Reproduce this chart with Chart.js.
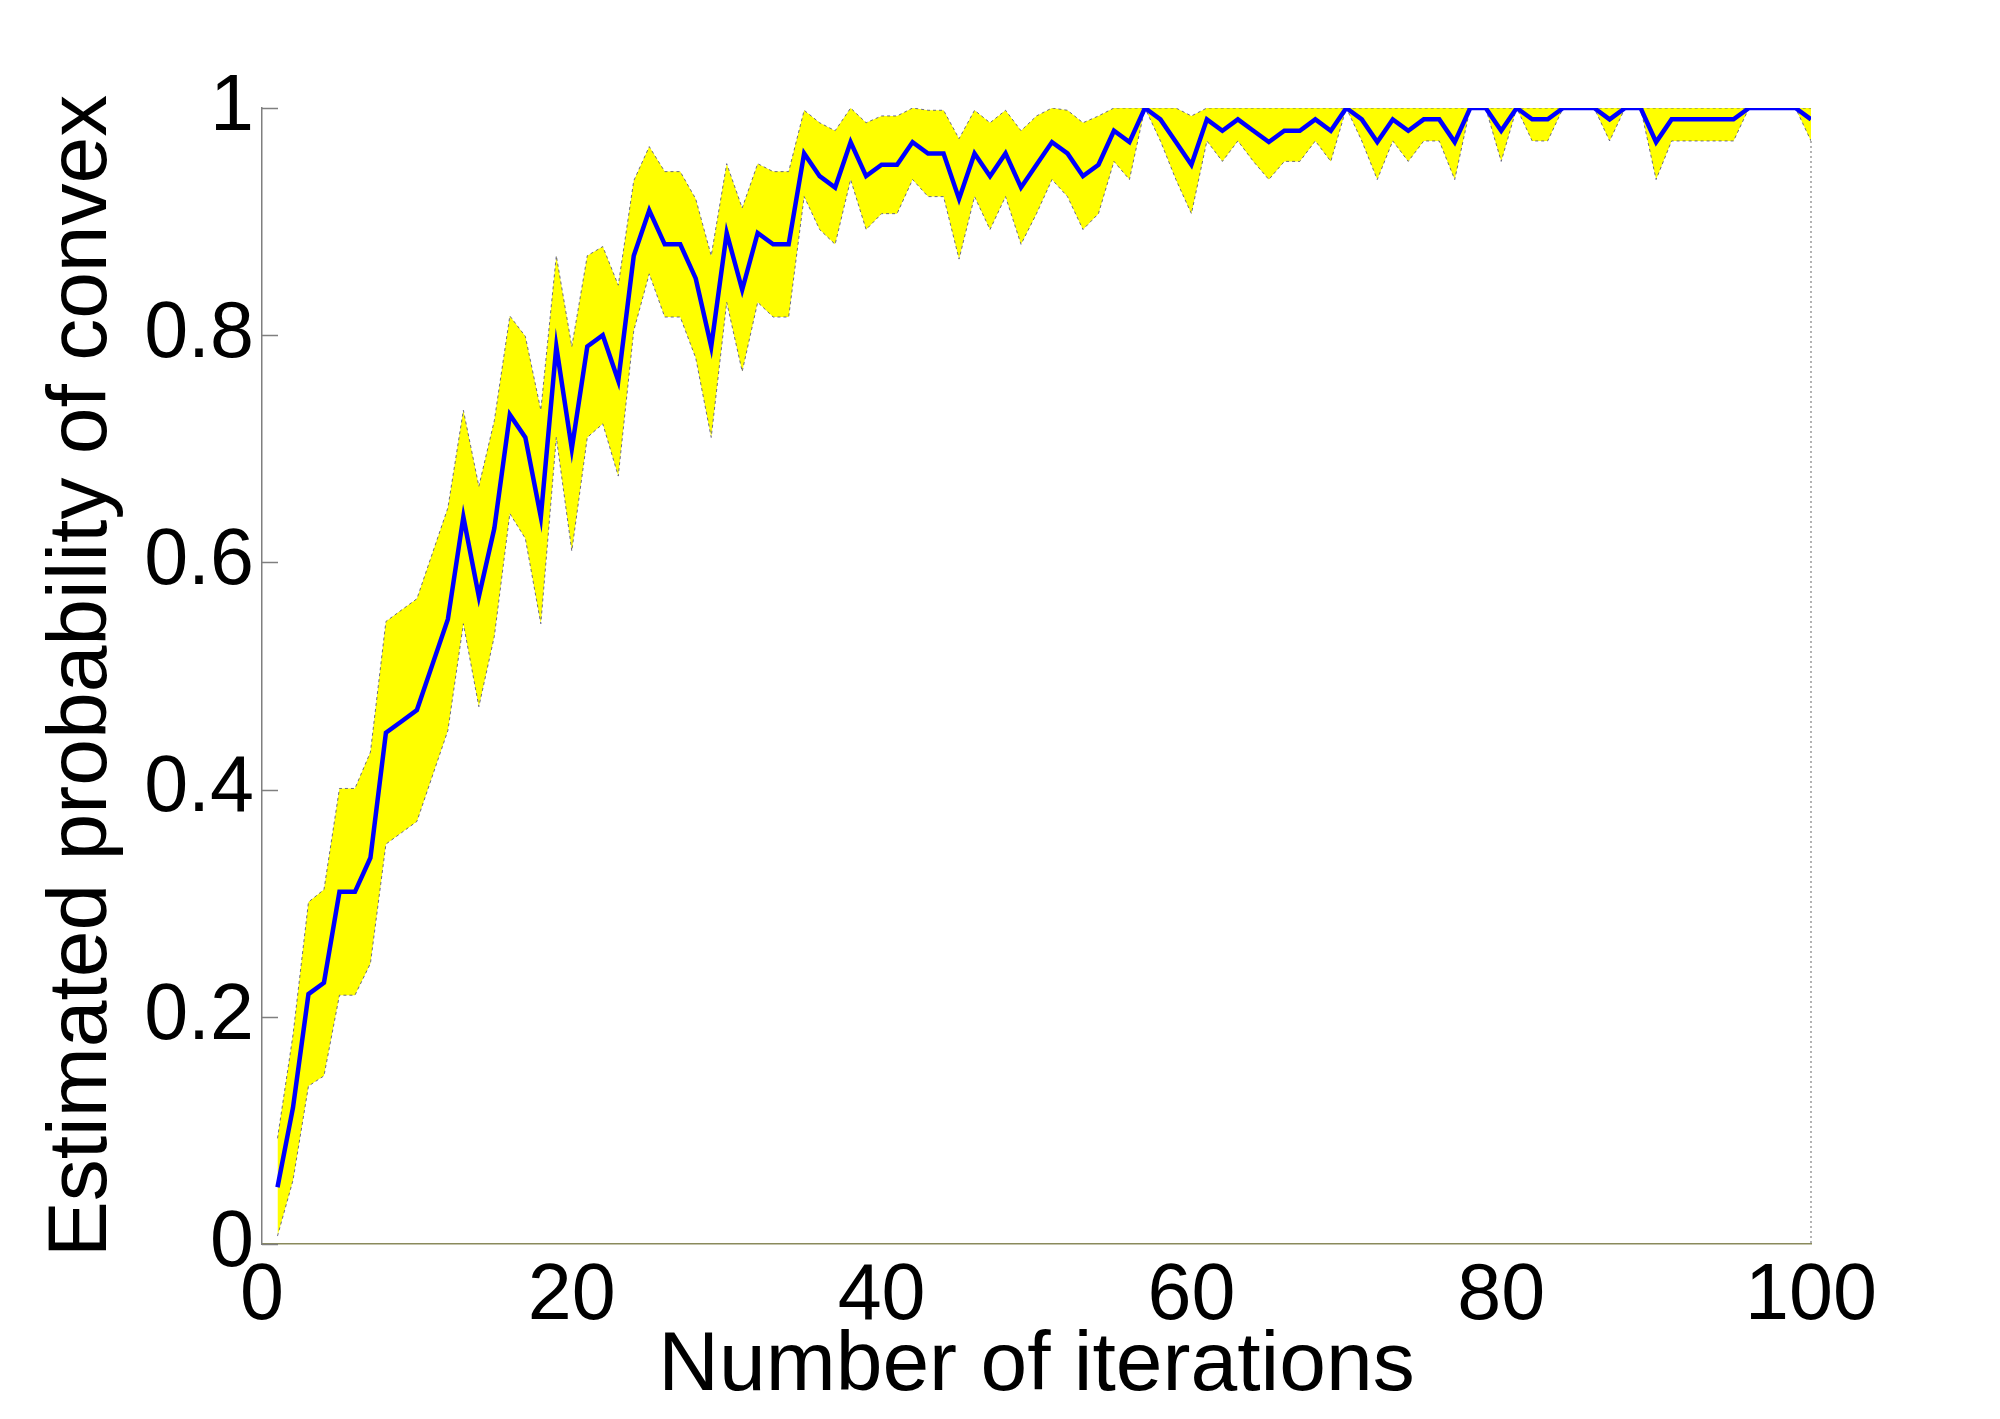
<!DOCTYPE html>
<html>
<head>
<meta charset="utf-8">
<script src="https://cdn.jsdelivr.net/npm/chart.js@4.4.1/dist/chart.umd.min.js"></script>
<style>
  html, body { margin: 0; padding: 0; background: #fff; }
  #wrap { width: 2000px; height: 1419px; }
</style>
</head>
<body>
<div id="wrap"><canvas id="convexchart"></canvas></div>
<script>
// estimated probability of convex, one value per iteration (1..100)
const meanProb = [
  0.05, 0.12, 0.22, 0.23, 0.31, 0.31, 0.34, 0.45, 0.46, 0.47,
  0.51, 0.55, 0.64, 0.57, 0.63, 0.73, 0.71, 0.64, 0.79, 0.70,
  0.79, 0.80, 0.76, 0.87, 0.91, 0.88, 0.88, 0.85, 0.79, 0.89,
  0.84, 0.89, 0.88, 0.88, 0.96, 0.94, 0.93, 0.97, 0.94, 0.95,
  0.95, 0.97, 0.96, 0.96, 0.92, 0.96, 0.94, 0.96, 0.93, 0.95,
  0.97, 0.96, 0.94, 0.95, 0.98, 0.97, 1.00, 0.99, 0.97, 0.95,
  0.99, 0.98, 0.99, 0.98, 0.97, 0.98, 0.98, 0.99, 0.98, 1.00,
  0.99, 0.97, 0.99, 0.98, 0.99, 0.99, 0.97, 1.00, 1.00, 0.98,
  1.00, 0.99, 0.99, 1.00, 1.00, 1.00, 0.99, 1.00, 1.00, 0.97,
  0.99, 0.99, 0.99, 0.99, 0.99, 1.00, 1.00, 1.00, 1.00, 0.99
];

// lower edge of the yellow band
const lowerBand = [
  0.007, 0.056, 0.139, 0.148, 0.219, 0.219, 0.247, 0.352, 0.362, 0.372,
  0.412, 0.452, 0.546, 0.473, 0.535, 0.643, 0.621, 0.546, 0.710, 0.610,
  0.710, 0.722, 0.676, 0.804, 0.854, 0.816, 0.816, 0.780, 0.710, 0.829,
  0.768, 0.829, 0.816, 0.816, 0.922, 0.893, 0.880, 0.937, 0.893, 0.907,
  0.907, 0.937, 0.922, 0.922, 0.867, 0.922, 0.893, 0.922, 0.880, 0.907,
  0.937, 0.922, 0.893, 0.907, 0.953, 0.937, 1.000, 0.971, 0.937, 0.907,
  0.971, 0.953, 0.971, 0.953, 0.937, 0.953, 0.953, 0.971, 0.953, 1.000,
  0.971, 0.937, 0.971, 0.953, 0.971, 0.971, 0.937, 1.000, 1.000, 0.953,
  1.000, 0.971, 0.971, 1.000, 1.000, 1.000, 0.971, 1.000, 1.000, 0.937,
  0.971, 0.971, 0.971, 0.971, 0.971, 1.000, 1.000, 1.000, 1.000, 0.971
];

// upper edge of the yellow band
const upperBand = [
  0.093, 0.184, 0.301, 0.312, 0.401, 0.401, 0.433, 0.548, 0.558, 0.568,
  0.608, 0.648, 0.734, 0.667, 0.725, 0.817, 0.799, 0.734, 0.870, 0.790,
  0.870, 0.878, 0.844, 0.936, 0.966, 0.944, 0.944, 0.920, 0.870, 0.951,
  0.912, 0.951, 0.944, 0.944, 0.998, 0.987, 0.980, 1.000, 0.987, 0.993,
  0.993, 1.000, 0.998, 0.998, 0.973, 0.998, 0.987, 0.998, 0.980, 0.993,
  1.000, 0.998, 0.987, 0.993, 1.000, 1.000, 1.000, 1.000, 1.000, 0.993,
  1.000, 1.000, 1.000, 1.000, 1.000, 1.000, 1.000, 1.000, 1.000, 1.000,
  1.000, 1.000, 1.000, 1.000, 1.000, 1.000, 1.000, 1.000, 1.000, 1.000,
  1.000, 1.000, 1.000, 1.000, 1.000, 1.000, 1.000, 1.000, 1.000, 1.000,
  1.000, 1.000, 1.000, 1.000, 1.000, 1.000, 1.000, 1.000, 1.000, 1.000
];

const xTicks = [0, 20, 40, 60, 80, 100];
const yTicks = [0, 0.2, 0.4, 0.6, 0.8, 1];

const iterations = meanProb.map((_, i) => i + 1);
const toPoints = (arr) => arr.map((v, i) => ({ x: iterations[i], y: v }));

// inward tick marks on the y axis + dotted right edge of the band area
const axisMarks = {
  id: 'axisMarks',
  afterDatasetsDraw(chart) {
    const ctx = chart.ctx;
    const area = chart.chartArea;
    const ys = chart.scales.y;
    ctx.save();
    ctx.strokeStyle = '#7f7f7f';
    ctx.lineWidth = 1.5;
    yTicks.forEach(t => {
      const py = Math.round(ys.getPixelForValue(t)) + 0.5;
      ctx.beginPath();
      ctx.moveTo(area.left, py);
      ctx.lineTo(area.left + 16, py);
      ctx.stroke();
    });
    ctx.setLineDash([2, 3]);
    ctx.strokeStyle = '#9a9a9a';
    ctx.beginPath();
    ctx.moveTo(area.right, ys.getPixelForValue(lowerBand[lowerBand.length - 1]));
    ctx.lineTo(area.right, ys.getPixelForValue(0));
    ctx.stroke();
    ctx.restore();
  }
};

const tickFont = { family: "'Liberation Sans', Arial, Helvetica, sans-serif", size: 79 };
const titleFont = { family: "'Liberation Sans', Arial, Helvetica, sans-serif", size: 84 };

const ctx = document.getElementById('convexchart').getContext('2d');
new Chart(ctx, {
  type: 'line',
  data: {
    datasets: [
      {
        label: 'Estimated probability',
        data: toPoints(meanProb),
        borderColor: '#0000ff',
        borderWidth: 4.5,
        pointRadius: 0,
        tension: 0,
        fill: false,
        order: 0
      },
      {
        label: 'Lower',
        data: toPoints(lowerBand),
        borderColor: 'rgba(70,70,130,0.8)',
        borderWidth: 1,
        borderDash: [3, 3],
        pointRadius: 0,
        tension: 0,
        fill: false,
        order: 1
      },
      {
        label: 'Upper',
        data: toPoints(upperBand),
        borderColor: 'rgba(70,70,130,0.8)',
        borderWidth: 1,
        borderDash: [3, 3],
        backgroundColor: '#ffff00',
        pointRadius: 0,
        tension: 0,
        fill: 1,
        order: 2
      }
    ]
  },
  options: {
    responsive: true,
    maintainAspectRatio: false,
    animation: false,
    layout: { padding: { left: 0, right: 189, top: 108, bottom: 0 } },
    plugins: {
      legend: { display: false },
      tooltip: { enabled: false }
    },
    scales: {
      x: {
        type: 'linear',
        min: 0,
        max: 100,
        afterFit: (scale) => { scale.height = 175; },
        afterBuildTicks: (scale) => { scale.ticks = xTicks.map(v => ({ value: v })); },
        grid: { display: false, drawTicks: false },
        border: { display: true, color: '#8a8a5c', width: 1.5, dash: [2, 3] },
        ticks: {
          color: '#000', font: tickFont, padding: 6, maxRotation: 0,
          callback: (v) => String(v)
        },
        title: {
          display: true,
          text: 'Number of iterations',
          color: '#000',
          font: titleFont,
          padding: { top: 0, bottom: 2 }
        }
      },
      y: {
        min: 0,
        max: 1,
        afterFit: (scale) => { scale.width = 262; },
        afterBuildTicks: (scale) => { scale.ticks = yTicks.map(v => ({ value: v })); },
        grid: { display: false, drawTicks: false },
        border: { display: true, color: '#7f7f7f', width: 1.5 },
        ticks: {
          color: '#000', font: tickFont, padding: 8,
          callback: (v) => String(Number(v.toFixed(1)))
        },
        title: {
          display: true,
          text: 'Estimated probability of convex',
          color: '#000',
          font: titleFont,
          padding: { top: 32, bottom: 0 }
        }
      }
    }
  },
  plugins: [axisMarks]
});
</script>
</body>
</html>
